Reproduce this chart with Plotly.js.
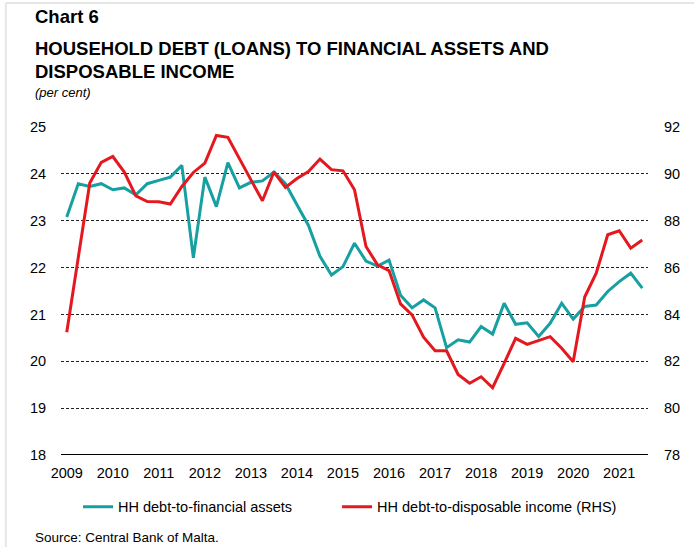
<!DOCTYPE html>
<html>
<head>
<meta charset="utf-8">
<script src="https://cdn.plot.ly/plotly-3.0.1.min.js"></script>
<style>
  html, body { margin: 0; padding: 0; background: #fff; }
  #chart { width: 694px; height: 547px; }
</style>
</head>
<body>
<div id="chart"></div>
<script>
// Quarters 2009Q1 - 2021Q3
var years = [2009, 2010, 2011, 2012, 2013, 2014, 2015, 2016, 2017, 2018, 2019, 2020, 2021];
var quarters = [];
years.forEach(function(y) {
    ['Q1', 'Q2', 'Q3', 'Q4'].forEach(function(q) {
        if (y === 2021 && q === 'Q4') return;
        quarters.push(y + q);
    });
});

// HH debt-to-financial assets (left axis)
var debtToAssets = [
    23.08, 23.79, 23.73, 23.79, 23.66, 23.70, 23.55, 23.79, 23.86, 23.93,
    24.18, 22.21, 23.93, 23.30, 24.24, 23.70, 23.82, 23.85, 24.04, 23.79,
    23.34, 22.90, 22.24, 21.84, 22.02, 22.52, 22.14, 22.03, 22.16, 21.41,
    21.14, 21.31, 21.14, 20.29, 20.46, 20.41, 20.74, 20.58, 21.24, 20.79,
    20.82, 20.53, 20.81, 21.24, 20.90, 21.17, 21.20, 21.49, 21.70, 21.88,
    21.56
];

// HH debt-to-disposable income (right axis)
var debtToIncome = [
    83.24, 86.43, 89.61, 90.49, 90.74, 90.08, 89.06, 88.82, 88.81, 88.71,
    89.46, 90.06, 90.46, 91.64, 91.56, 90.65, 89.75, 88.85, 90.08, 89.42,
    89.80, 90.10, 90.63, 90.18, 90.13, 89.32, 86.90, 86.12, 85.87, 84.45,
    83.98, 83.03, 82.45, 82.45, 81.44, 81.06, 81.34, 80.87, 81.91, 82.98,
    82.72, 82.87, 83.05, 82.56, 81.98, 84.74, 85.76, 87.40, 87.57, 86.83,
    87.18
];

var leftTicks = [18, 19, 20, 21, 22, 23, 24, 25];
var rightTicks = [78, 80, 82, 84, 86, 88, 90, 92];
var yearTickVals = years.map(function(y) { return y + 'Q1'; });
var yearTickText = years.map(String);

var teal = '#17a0a2';
var red = '#e3191f';
var font = 'Liberation Sans, Arial, sans-serif';

var trace1 = {
    x: quarters,
    y: debtToAssets,
    name: 'HH debt-to-financial assets',
    type: 'scatter',
    mode: 'lines',
    line: { color: teal, width: 3 },
    yaxis: 'y',
    legend: 'legend'
};

var trace2 = {
    x: quarters,
    y: debtToIncome,
    name: 'HH debt-to-disposable income (RHS)',
    type: 'scatter',
    mode: 'lines',
    line: { color: red, width: 3 },
    yaxis: 'y2',
    legend: 'legend2'
};

// one legend box per series so each can sit where the original puts it
var legendStyle = function(xpos) {
    return {
        orientation: 'h',
        x: xpos, xanchor: 'left',
        y: -0.158, yanchor: 'middle',
        font: { size: 14.5 },
        itemwidth: 30,
        bgcolor: 'rgba(0,0,0,0)'
    };
};

var layout = {
    width: 694,
    height: 547,
    margin: { l: 61, r: 46, t: 127, b: 92 },
    paper_bgcolor: '#fff',
    plot_bgcolor: '#fff',
    font: { family: font, size: 14, color: '#000' },
    showlegend: true,
    legend: legendStyle(0.029),
    legend2: legendStyle(0.4703),
    xaxis: {
        type: 'category',
        range: [-0.5, quarters.length - 0.5],
        tickvals: yearTickVals,
        ticktext: yearTickText,
        tickangle: 0,
        showgrid: false,
        zeroline: false,
        showline: false,
        ticks: 'outside',
        ticklen: 5,
        tickcolor: 'rgba(0,0,0,0)',
        tickfont: { size: 14.5 }
    },
    yaxis: {
        range: [18, 25],
        tickvals: leftTicks,
        showgrid: true,
        gridcolor: '#222',
        griddash: '3px,2px',
        gridwidth: 1,
        zeroline: false,
        showline: false,
        ticks: 'outside',
        ticklen: 11,
        tickcolor: 'rgba(0,0,0,0)',
        tickfont: { size: 14.5 }
    },
    yaxis2: {
        range: [78, 92],
        tickvals: rightTicks,
        overlaying: 'y',
        side: 'right',
        showgrid: false,
        zeroline: false,
        showline: false,
        ticks: 'outside',
        ticklen: 12,
        tickcolor: 'rgba(0,0,0,0)',
        tickfont: { size: 14.5 }
    },
    shapes: [
        // solid base line
        { type: 'line', xref: 'paper', yref: 'y', x0: 0, x1: 1, y0: 18, y1: 18,
          line: { color: '#000', width: 2 } },
        // light frame
        { type: 'line', xref: 'paper', yref: 'paper', x0: -0.094, x1: 1.1, y0: 1.378, y1: 1.378,
          line: { color: '#e6e6e6', width: 2 } },
        { type: 'line', xref: 'paper', yref: 'paper', x0: -0.094, x1: -0.094, y0: 1.378, y1: -0.3,
          line: { color: '#e6e6e6', width: 2 } }
    ],
    annotations: [
        { text: '<b>Chart 6</b>', xref: 'paper', yref: 'paper', x: -0.048, y: 1.336,
          xanchor: 'left', yanchor: 'middle', showarrow: false, font: { size: 18.5 } },
        { text: '<b>HOUSEHOLD DEBT (LOANS) TO FINANCIAL ASSETS AND</b>', xref: 'paper', yref: 'paper',
          x: -0.048, y: 1.24, xanchor: 'left', yanchor: 'middle', showarrow: false, font: { size: 18.5 } },
        { text: '<b>DISPOSABLE INCOME</b>', xref: 'paper', yref: 'paper', x: -0.048, y: 1.17,
          xanchor: 'left', yanchor: 'middle', showarrow: false, font: { size: 18.5 } },
        { text: '<i>(per cent)</i>', xref: 'paper', yref: 'paper', x: -0.048, y: 1.105,
          xanchor: 'left', yanchor: 'middle', showarrow: false, font: { size: 13 } },
        { text: 'Source: Central Bank of Malta.', xref: 'paper', yref: 'paper', x: -0.048, y: -0.25,
          xanchor: 'left', yanchor: 'middle', showarrow: false, font: { size: 13.5 } }
    ]
};

Plotly.newPlot('chart', [trace1, trace2], layout, { displayModeBar: false, staticPlot: true });
</script>
</body>
</html>
